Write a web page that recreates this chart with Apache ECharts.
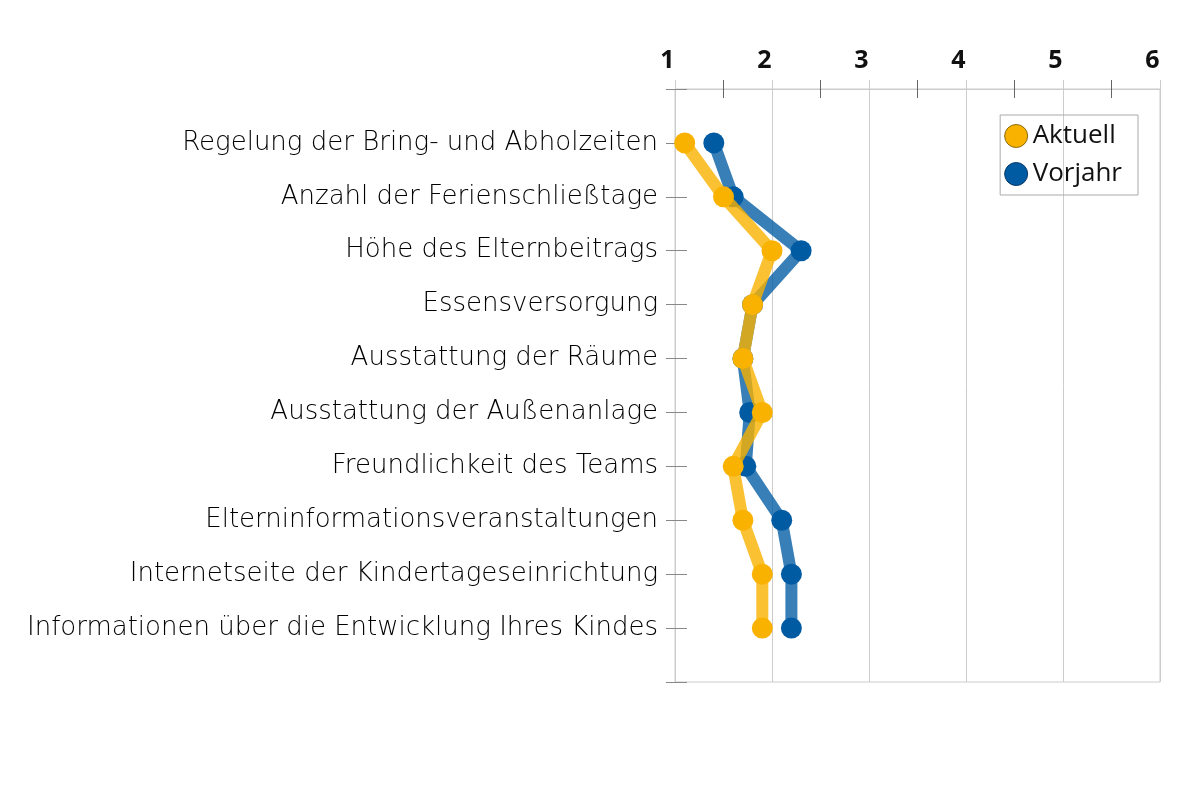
<!DOCTYPE html>
<html>
<head>
<meta charset="utf-8">
<script src="https://cdn.jsdelivr.net/npm/echarts@6/dist/echarts.min.js"></script>
<style>html,body{margin:0;padding:0;background:#fff}#c{width:1200px;height:800px}</style>
</head>
<body>
<div id="c"></div>
<script>
const categories = [
  'Regelung der Bring- und Abholzeiten',
  'Anzahl der Ferienschließtage',
  'Höhe des Elternbeitrags',
  'Essensversorgung',
  'Ausstattung der Räume',
  'Ausstattung der Außenanlage',
  'Freundlichkeit des Teams',
  'Elterninformationsveranstaltungen',
  'Internetseite der Kindertageseinrichtung',
  'Informationen über die Entwicklung Ihres Kindes'
];
const aktuell = [1.1, 1.5, 2.0, 1.8, 1.7, 1.9, 1.6, 1.7, 1.9, 1.9];
const vorjahr = [1.4, 1.6, 2.3, 1.8, 1.7, 1.77, 1.73, 2.1, 2.2, 2.2];
const xTicks = [1, 2, 3, 4, 5, 6];

const yCats = [''].concat(categories, ['']);
const chart = echarts.init(document.getElementById('c'));
const gridColor = '#cccccc';
chart.setOption({
  animation: false,
  grid: {left: 675, right: 40, top: 89, bottom: 118, show: true, borderColor: gridColor, borderWidth: 1},
  legend: {
    right: 62, top: 115, orient: 'vertical', itemGap: 12,
    padding: [8, 16, 8, 4],
    borderColor: '#aaaaaa', borderWidth: 1, borderRadius: 0,
    icon: 'circle', itemWidth: 23, itemHeight: 23,
    textStyle: {fontFamily: 'Open Sans', fontSize: 26, color: '#111'},
    data: [
      {name: 'Aktuell', itemStyle: {borderColor: '#8a6a10', borderWidth: 1}},
      {name: 'Vorjahr', itemStyle: {borderColor: '#0a3a66', borderWidth: 1}}
    ]
  },
  xAxis: [{
    type: 'value', position: 'top', min: xTicks[0], max: xTicks[xTicks.length - 1], interval: 1,
    axisLine: {show: true, lineStyle: {color: gridColor}},
    axisTick: {show: true, length: 9, lineStyle: {color: gridColor}},
    minorTick: {show: true, splitNumber: 2, length: 9, lineStyle: {color: '#666'}},
    splitLine: {show: true, lineStyle: {color: gridColor}},
    axisLabel: {fontFamily: 'Open Sans', fontWeight: 'bold', fontSize: 25, color: '#111', margin: 16, padding: [0, 15, 0, 0]}
  }, {
    type: 'value', position: 'top', min: xTicks[0], max: xTicks[xTicks.length - 1], interval: 1,
    axisLine: {show: false}, axisLabel: {show: false}, splitLine: {show: false},
    axisTick: {show: false, inside: true},
    minorTick: {show: true, splitNumber: 2, length: 9, lineStyle: {color: '#666'}}
  }],
  yAxis: [{
    type: 'category', data: yCats, inverse: true, boundaryGap: false,
    axisLine: {show: true, lineStyle: {color: gridColor}},
    axisTick: {show: true, length: 9, lineStyle: {color: '#888'}},
    axisLabel: {fontFamily: 'DejaVu Sans', fontWeight: 200, fontSize: 26, color: '#000', margin: 17, interval: 0, padding: [5, 0, 0, 0]}
  }, {
    type: 'category', data: yCats, inverse: true, boundaryGap: false, position: 'left',
    axisLine: {show: false}, axisLabel: {show: false},
    axisTick: {show: true, inside: true, length: 12, lineStyle: {color: '#888'}, interval: 0}
  }],
  series: [{
    name: 'Vorjahr', type: 'line', z: 2,
    data: categories.map((c, i) => [vorjahr[i], c]),
    symbol: 'circle', symbolSize: 21,
    itemStyle: {color: '#005ba3'},
    lineStyle: {color: '#005ba3', width: 12, opacity: 0.78}
  }, {
    name: 'Aktuell', type: 'line', z: 3,
    data: categories.map((c, i) => [aktuell[i], c]),
    symbol: 'circle', symbolSize: 21,
    itemStyle: {color: '#f9b200'},
    lineStyle: {color: '#f9b200', width: 12, opacity: 0.8}
  }]
});
</script>
</body>
</html>
